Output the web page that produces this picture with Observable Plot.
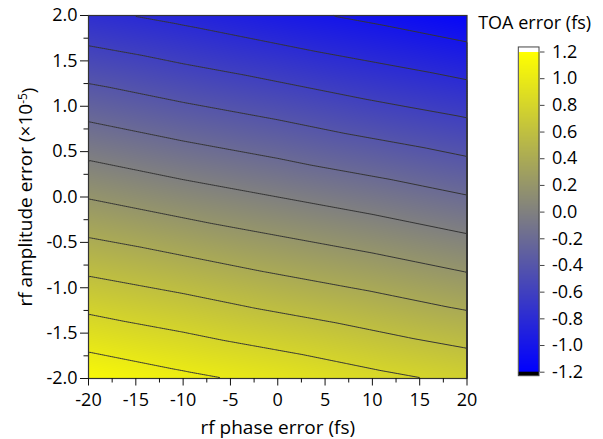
<!DOCTYPE html>
<html><head><meta charset="utf-8">
<script src="https://cdn.jsdelivr.net/npm/d3@7"></script>
<script src="https://cdn.jsdelivr.net/npm/@observablehq/plot@0.6"></script>
<style>
body{margin:0;background:#fff;}
#wrap{display:flex;width:603px;height:439px;overflow:hidden;}
#wrap svg{font-family:"Open Sans",sans-serif;overflow:visible;}
</style></head><body><div id="wrap"></div>
<script>
// rf phase error (fs) sample columns, rf amplitude error (x1e-5) sample rows
const phaseErr = [-20, -10, 0, 10, 20];
const ampErr = [2, 1, 0, -1, -2];
const toaGrid = [
  [-0.76, -0.85, -0.95, -1.04, -1.14],
  [-0.28, -0.38, -0.47, -0.57, -0.66],
  [ 0.19,  0.09,  0.00, -0.09, -0.19],
  [ 0.66,  0.57,  0.47,  0.38,  0.28],
  [ 1.14,  1.04,  0.95,  0.85,  0.76]
];
const contourLevels = [-1.0, -0.8, -0.6, -0.4, -0.2, 0, 0.2, 0.4, 0.6, 0.8, 1.0];
const xTicks = [-20, -15, -10, -5, 0, 5, 10, 15, 20];
const xMinorTicks = [-17.5, -12.5, -7.5, -2.5, 2.5, 7.5, 12.5, 17.5];
const yTicks = [-2, -1.5, -1, -0.5, 0, 0.5, 1, 1.5, 2];
const yMinorTicks = [-1.75, -1.25, -0.75, -0.25, 0.25, 0.75, 1.25, 1.75];
const barTicks = [-1.2, -1.0, -0.8, -0.6, -0.4, -0.2, 0, 0.2, 0.4, 0.6, 0.8, 1.0, 1.2];
const barRange = [-1.2, 1.2];
const overRange = [1.2, 1.234];
const underRange = [-1.23, -1.2];

const points = [];
ampErr.forEach((a, i) => phaseErr.forEach((p, j) => points.push({x: p, y: a, v: toaGrid[i][j]})));

const colorScale = {
  type: "linear",
  domain: [-1.2, 0, 1.2],
  range: ["#0000ff", "#808080", "#ffff00"],
  interpolate: "rgb",
  clamp: true
};

const main = Plot.plot({
  width: 476, height: 439,
  marginLeft: 88, marginRight: 9.5, marginTop: 15, marginBottom: 61,
  style: {fontFamily: "Open Sans", fontSize: "18px", color: "#000", background: "transparent"},
  x: {domain: [-20, 20]},
  y: {domain: [-2, 2]},
  color: colorScale,
  marks: [
    Plot.raster(points, {x: "x", y: "y", fill: "v", interpolate: "barycentric"}),
    Plot.contour(points, {x: "x", y: "y", value: "v", interpolate: "barycentric",
      thresholds: contourLevels, stroke: "#333", strokeWidth: 1, fill: "none"}),
    Plot.frame({stroke: "#333", strokeWidth: 1.2}),
    Plot.axisX({ticks: xMinorTicks, tickSize: 4.5, tickFormat: () => "", label: null, stroke: "#111"}),
    Plot.axisX({ticks: xTicks, tickSize: 7.5, tickPadding: 7, tickFormat: d => String(d),
      label: "rf phase error (fs)", labelAnchor: "center", labelArrow: "none", labelOffset: 55,
      stroke: "#111", fontSize: 18}),
    Plot.axisY({ticks: yMinorTicks, tickSize: 4.5, tickFormat: () => "", label: null, stroke: "#111"}),
    Plot.axisY({ticks: yTicks, tickSize: 8, tickPadding: 3, tickFormat: d => d.toFixed(1),
      label: "rf amplitude error (×10", labelAnchor: "center", labelArrow: "none", labelOffset: 70,
      stroke: "#111", fontSize: 18})
  ]
});

// superscript for the y-axis label
const yl = d3.select(main).select('g[aria-label="y-axis label"] text');
yl.style("font-size", "19px");
yl.text("");
yl.append("tspan").text("rf amplitude error (×10");
yl.append("tspan").attr("dy", "-0.45em").style("font-size", "12px").text("-5");
yl.append("tspan").attr("dy", "0.45em").text(")");
d3.select(main).select('g[aria-label="x-axis label"] text').style("font-size", "19px");

const bar = Plot.plot({
  width: 127, height: 439,
  marginLeft: 42.3, marginRight: 64, marginTop: 51.5, marginBottom: 67.3,
  style: {fontFamily: "Open Sans", fontSize: "18px", color: "#000", background: "transparent"},
  x: {domain: [0, 1], axis: null},
  y: {domain: barRange, axis: null},
  color: colorScale,
  marks: [
    Plot.raster({x1: 0, x2: 1, y1: barRange[0], y2: barRange[1], fill: (x, y) => y, width: 4, height: 320}),
    Plot.rect([overRange], {x1: 0, x2: 1, y1: d => d[0], y2: d => d[1], fill: "white"}),
    Plot.rect([underRange], {x1: 0, x2: 1, y1: d => d[0], y2: d => d[1], fill: "black"}),
    Plot.rect([[underRange[0], overRange[1]]], {x1: 0, x2: 1, y1: d => d[0], y2: d => d[1], fill: "none", stroke: "#444", strokeWidth: 1}),
    Plot.axisY({anchor: "right", ticks: barTicks, tickSize: 4.5, tickPadding: 8, tickFormat: d => d.toFixed(1),
      label: null, stroke: "#444", fontSize: 18}),
    Plot.text(["TOA error (fs)"], {frameAnchor: "top", dx: 5.5, dy: -29, lineAnchor: "middle", fontSize: 18, fill: "#000"})
  ]
});

document.getElementById("wrap").append(main, bar);
</script></body></html>
